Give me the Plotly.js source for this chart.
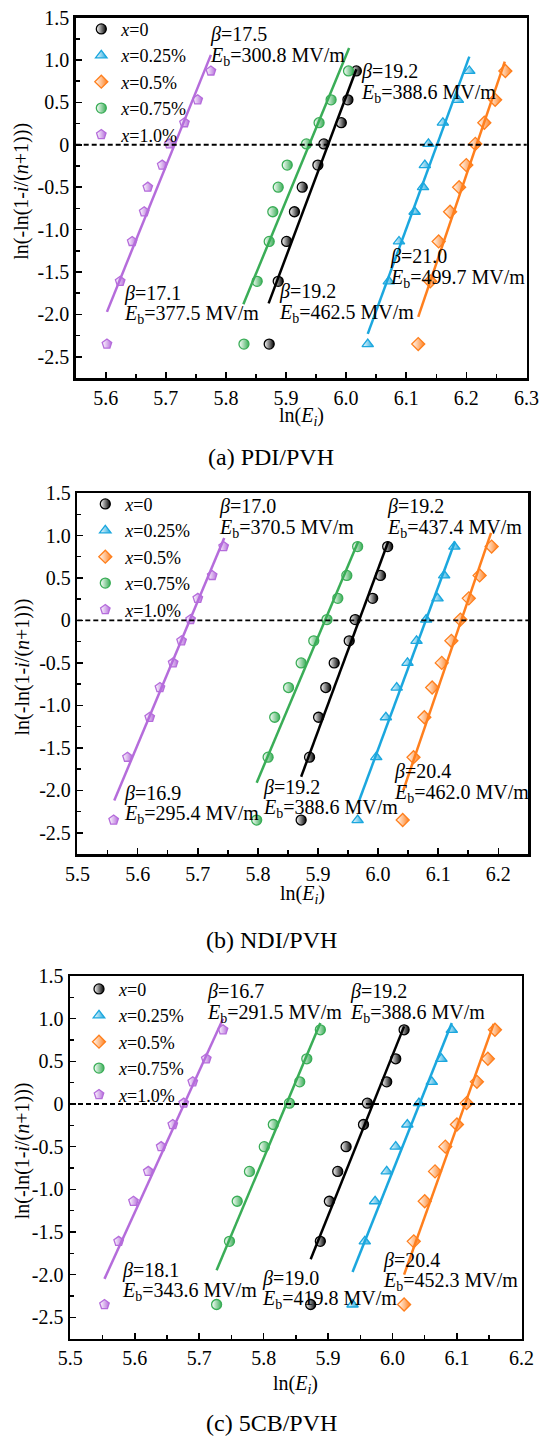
<!DOCTYPE html>
<html>
<head>
<meta charset="utf-8">
<script src="https://cdn.plot.ly/plotly-3.0.1.min.js"></script>
<style>html,body{margin:0;padding:0;background:#fff;}#chart{width:542px;height:1437px;}</style>
</head>
<body>
<div id="chart"></div>
<script>
// ---------- data ----------
const yProb = [-2.35, -1.61, -1.14, -0.79, -0.50, -0.24, 0.01, 0.26, 0.53, 0.87];
const seriesNames = ['<i>x</i>=0', '<i>x</i>=0.25%', '<i>x</i>=0.5%', '<i>x</i>=0.75%', '<i>x</i>=1.0%'];

// (a) PDI/PVH  ln(E_i)
const a_x0   = [5.872, 5.887, 5.901, 5.914, 5.927, 5.953, 5.963, 5.992, 6.003, 6.017];
const a_x025 = [6.036, 6.071, 6.088, 6.114, 6.128, 6.131, 6.137, 6.161, 6.186, 6.205];
const a_x05  = [6.120, 6.140, 6.154, 6.173, 6.188, 6.200, 6.215, 6.230, 6.248, 6.265];
const a_x075 = [5.830, 5.852, 5.872, 5.878, 5.887, 5.902, 5.934, 5.955, 5.975, 6.004];
const a_x10  = [5.602, 5.624, 5.644, 5.664, 5.670, 5.694, 5.706, 5.731, 5.753, 5.775];
// fitted lines (a): [start, end]
const a_fitX = [[5.871, 6.017], [6.036, 6.205], [6.120, 6.264], [5.829, 6.005], [5.602, 5.775]];
const a_fitY = [[-1.87, 0.89], [-2.23, 1.04], [-2.03, 0.98], [-1.88, 1.14], [-1.97, 1.06]];

// (b) NDI/PVH
const b_x0   = [5.872, 5.886, 5.901, 5.913, 5.927, 5.952, 5.962, 5.991, 6.004, 6.016];
const b_x025 = [5.966, 5.997, 6.013, 6.031, 6.049, 6.064, 6.080, 6.099, 6.110, 6.127];
const b_x05  = [6.041, 6.059, 6.077, 6.090, 6.106, 6.122, 6.137, 6.151, 6.169, 6.189];
const b_x075 = [5.798, 5.817, 5.828, 5.851, 5.872, 5.893, 5.915, 5.933, 5.948, 5.966];
const b_x10  = [5.560, 5.583, 5.620, 5.637, 5.659, 5.673, 5.688, 5.700, 5.724, 5.743];
const b_fitX = [[5.872, 6.017], [5.967, 6.128], [6.042, 6.188], [5.798, 5.967], [5.561, 5.744]];
const b_fitY = [[-1.84, 0.93], [-2.15, 0.93], [-2.00, 1.03], [-1.91, 0.93], [-2.12, 0.97]];

// (c) 5CB/PVH
const c_x0   = [5.873, 5.888, 5.902, 5.915, 5.928, 5.955, 5.961, 5.991, 6.005, 6.018];
const c_x025 = [5.938, 5.957, 5.973, 5.991, 6.005, 6.023, 6.041, 6.061, 6.076, 6.092];
const c_x05  = [6.018, 6.033, 6.050, 6.066, 6.082, 6.100, 6.115, 6.131, 6.148, 6.159];
const c_x075 = [5.727, 5.747, 5.759, 5.778, 5.801, 5.815, 5.840, 5.856, 5.867, 5.888];
const c_x10  = [5.553, 5.575, 5.598, 5.621, 5.641, 5.659, 5.676, 5.690, 5.711, 5.737];
const c_fitX = [[5.873, 6.018], [5.938, 6.092], [6.018, 6.157], [5.727, 5.888], [5.553, 5.737]];
const c_fitY = [[-1.82, 0.91], [-1.97, 0.95], [-2.00, 0.94], [-1.95, 0.95], [-2.05, 1.00]];

// Weibull labels
const a_labels = [['17.5', '300.8'], ['19.2', '388.6'], ['17.1', '377.5'], ['19.2', '462.5'], ['21.0', '499.7']];
const b_labels = [['17.0', '370.5'], ['19.2', '437.4'], ['16.9', '295.4'], ['19.2', '388.6'], ['20.4', '462.0']];
const c_labels = [['16.7', '291.5'], ['19.2', '388.6'], ['18.1', '343.6'], ['19.0', '419.8'], ['20.4', '452.3']];

const captions = ['(a) PDI/PVH', '(b) NDI/PVH', '(c) 5CB/PVH'];
const xRanges = [[5.55, 6.3005], [5.4995, 6.25], [5.4995, 6.2005]];
const yTickVals = [1.5, 1.0, 0.5, 0, -0.5, -1.0, -1.5, -2.0, -2.5];
const yTickText = ['1.5', '1.0', '0.5', '0', '-0.5', '-1.0', '-1.5', '-2.0', '-2.5'];

// ---------- layout / style ----------
const W = 542, H = 1437;
const px = v => v / W;
const py = v => 1 - v / H;
const FONT = 'Liberation Serif, Times New Roman, serif';
const colors = ['#000000', '#1ba7de', '#ff7f1d', '#3aad57', '#b56cdb'];
const symbols = ['circle', 'triangle-up', 'diamond', 'circle', 'pentagon'];

const boxes = [
  {l: 75.7, r: 526.7, t: 17.5, b: 378.0},
  {l: 77.3, r: 528.3, t: 493.0, b: 854.0},
  {l: 70.0, r: 521.7, t: 976.0, b: 1338.6}
];
const legendPos = [{x: 103.3, y: 31.7}, {x: 107.3, y: 506.7}, {x: 101.0, y: 991.7}];
const labelPos = [
  [[208.3, 35.0], [359.3, 71.7], [121.7, 293.3], [277.0, 291.7], [388.3, 256.7]],
  [[216.7, 506.7], [385.0, 506.7], [121.7, 793.3], [261.0, 787.0], [391.7, 771.7]],
  [[205.0, 991.7], [348.3, 991.7], [120.0, 1270.0], [260.0, 1278.0], [381.0, 1260.0]]
];
const lineGap = 21.5;
const xTitleY = [416, 894, 1384];
const captionY = [457, 940, 1423];

const panelX = [[a_x0, a_x025, a_x05, a_x075, a_x10], [b_x0, b_x025, b_x05, b_x075, b_x10], [c_x0, c_x025, c_x05, c_x075, c_x10]];
const panelFitX = [a_fitX, b_fitX, c_fitX];
const panelFitY = [a_fitY, b_fitY, c_fitY];
const panelLabels = [a_labels, b_labels, c_labels];

const traces = [];
const layout = {
  width: W, height: H,
  margin: {l: 0, r: 0, t: 0, b: 0},
  paper_bgcolor: '#fff', plot_bgcolor: '#fff',
  font: {family: FONT, size: 20, color: '#000'},
  showlegend: true,
  annotations: [],
  shapes: []
};

for (let p = 0; p < 3; p++) {
  const sfx = p === 0 ? '' : String(p + 1);
  const xa = 'x' + sfx, ya = 'y' + sfx;
  const legName = 'legend' + sfx;
  const bx = boxes[p];

  // markers (left half open, right half filled look)
  for (let s = 0; s < 5; s++) {
    traces.push({
      type: 'scatter', mode: 'markers',
      x: panelX[p][s], y: yProb,
      xaxis: xa, yaxis: ya,
      name: seriesNames[s], legend: legName,
      marker: {
        symbol: symbols[s], size: 10, color: '#ffffff',
        line: {color: colors[s], width: 1.3},
        gradient: {type: 'horizontal', color: colors[s]}
      },
      hoverinfo: 'x+y'
    });
  }
  // fitted lines
  for (let s = 0; s < 5; s++) {
    traces.push({
      type: 'scatter', mode: 'lines',
      x: panelFitX[p][s], y: panelFitY[p][s],
      xaxis: xa, yaxis: ya, showlegend: false,
      line: {color: colors[s], width: 2.5},
      hoverinfo: 'skip'
    });
  }

  layout['xaxis' + sfx] = {
    domain: [px(bx.l), px(bx.r)], anchor: ya,
    range: xRanges[p], dtick: 0.1, tick0: 5.5, tickformat: '.1f',
    ticks: 'inside', ticklen: 6, tickwidth: 1.5, tickcolor: '#000',
    minor: {dtick: 0.05, ticks: 'inside', ticklen: 4, tickwidth: 1.5, tickcolor: '#000'},
    showline: true, linewidth: 2.5, linecolor: '#000', mirror: true,
    showgrid: false, zeroline: false, fixedrange: true,
    tickfont: {family: FONT, size: 20, color: '#000'}
  };
  layout['yaxis' + sfx] = {
    domain: [py(bx.b), py(bx.t)], anchor: xa,
    range: [-2.75, 1.5005], tickvals: yTickVals, ticktext: yTickText,
    ticks: 'inside', ticklen: 6, tickwidth: 1.5, tickcolor: '#000',
    minor: {dtick: 0.25, tick0: 0, ticks: 'inside', ticklen: 4, tickwidth: 1.5, tickcolor: '#000'},
    showline: true, linewidth: 2.5, linecolor: '#000', mirror: true,
    showgrid: false, zeroline: false, fixedrange: true,
    tickfont: {family: FONT, size: 20, color: '#000'}
  };

  // legend
  layout[legName] = {
    x: px(legendPos[p].x - 22), y: py(legendPos[p].y - 21),
    xanchor: 'left', yanchor: 'top',
    bgcolor: 'rgba(0,0,0,0)', borderwidth: 0,
    font: {family: FONT, size: 18, color: '#000'},
    tracegroupgap: 0, itemwidth: 30, traceorder: 'normal'
  };

  // dashed zero line
  layout.shapes.push({
    type: 'line', xref: xa + ' domain', yref: ya,
    x0: 0, x1: 1, y0: 0, y1: 0,
    line: {color: '#000', width: 1.8, dash: '5px,3px'}
  });

  // Weibull labels
  for (let k = 0; k < 5; k++) {
    const [bx0, by0] = labelPos[p][k];
    const [beta, eb] = panelLabels[p][k];
    layout.annotations.push({
      xref: 'paper', yref: 'paper', x: px(bx0), y: py(by0),
      xanchor: 'left', yanchor: 'middle', showarrow: false,
      text: '<i>β</i>=' + beta, font: {family: FONT, size: 20, color: '#000'}
    });
    layout.annotations.push({
      xref: 'paper', yref: 'paper', x: px(bx0), y: py(by0 + lineGap),
      xanchor: 'left', yanchor: 'middle', showarrow: false,
      text: '<i>E</i><sub>b</sub>=' + eb + ' MV/m', font: {family: FONT, size: 20, color: '#000'}
    });
  }

  // axis titles
  layout.annotations.push({
    xref: 'paper', yref: 'paper', x: px((bx.l + bx.r) / 2), y: py(xTitleY[p]),
    xanchor: 'center', yanchor: 'middle', showarrow: false,
    text: 'ln(<i>E</i><sub><i>i</i></sub>)', font: {family: FONT, size: 20, color: '#000'}
  });
  layout.annotations.push({
    xref: 'paper', yref: 'paper', x: px(22), y: py((bx.t + bx.b) / 2 - 6),
    xanchor: 'center', yanchor: 'middle', showarrow: false, textangle: -90,
    text: 'ln(-ln(1-<i>i</i>/(<i>n</i>+1)))', font: {family: FONT, size: 20, color: '#000'}
  });
  // caption
  layout.annotations.push({
    xref: 'paper', yref: 'paper', x: px(271), y: py(captionY[p]),
    xanchor: 'center', yanchor: 'middle', showarrow: false,
    text: captions[p], font: {family: FONT, size: 24, color: '#000'}
  });
}

Plotly.newPlot('chart', traces, layout, {staticPlot: true, displayModeBar: false});
</script>
</body>
</html>
